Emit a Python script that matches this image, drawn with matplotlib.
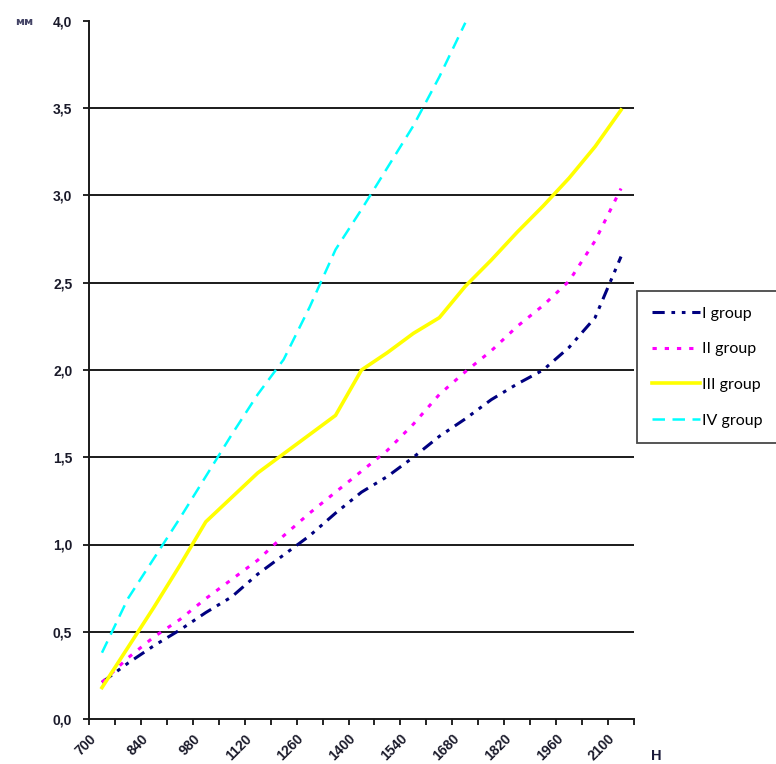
import matplotlib
matplotlib.use("Agg")
import matplotlib.pyplot as plt

# pressure categories (centres of the category slots), H
pressure = [735, 805, 875, 945, 1015, 1085, 1155, 1225, 1295, 1365, 1435,
            1505, 1575, 1645, 1715, 1785, 1855, 1925, 1995, 2065, 2135]

# deformation, mm
group_1 = [0.21, 0.32, 0.42, 0.51, 0.61, 0.70, 0.83, 0.94, 1.05, 1.18, 1.30,
           1.39, 1.50, 1.62, 1.72, 1.83, 1.92, 2.00, 2.13, 2.30, 2.65]
group_2 = [0.21, 0.35, 0.47, 0.57, 0.69, 0.80, 0.91, 1.05, 1.18, 1.30, 1.42,
           1.54, 1.69, 1.86, 1.99, 2.11, 2.25, 2.37, 2.51, 2.74, 3.04]
group_3 = [0.18, 0.41, 0.64, 0.88, 1.13, 1.27, 1.41, 1.52, 1.63, 1.74, 2.00,
           2.10, 2.21, 2.30, 2.48, 2.63, 2.79, 2.94, 3.10, 3.28, 3.49]
group_4 = [0.38, 0.69, 0.92, 1.15, 1.39, 1.63, 1.86, 2.06, 2.36, 2.69, 2.92,
           3.16, 3.40, 3.68, 3.99]

tick_pos = [700, 770, 840, 910, 980, 1050, 1120, 1190, 1260, 1330, 1400,
            1470, 1540, 1610, 1680, 1750, 1820, 1890, 1960, 2030, 2100, 2170]
tick_txt = ["700", "", "840", "", "980", "", "1120", "", "1260", "", "1400",
            "", "1540", "", "1680", "", "1820", "", "1960", "", "2100", ""]
y_ticks = [0.0, 0.5, 1.0, 1.5, 2.0, 2.5, 3.0, 3.5, 4.0]
y_txt = ["0,0", "0,5", "1,0", "1,5", "2,0", "2,5", "3,0", "3,5", "4,0"]
labels = ["I group", "II group", "III group", "IV group"]

W, H = 776, 764
fig = plt.figure(figsize=(W / 100, H / 100), dpi=100)
ax = fig.add_axes([89 / W, 1 - 719 / H, (634 - 89) / W, (719 - 21) / H])

for y in y_ticks[1:-1]:
    ax.axhline(y, color="#1a1a1a", lw=1.4, zorder=1)

ax.plot(pressure, group_1, color="#000080", lw=2.2,
        dashes=[4, 2.2, 1.2, 2.2, 1.2, 2.2], label=labels[0], zorder=3)
ax.plot(pressure, group_2, color="#ff00ff", lw=2.2,
        dashes=[1.4, 2.6], label=labels[1], zorder=3)
ax.plot(pressure, group_3, color="#ffff00", lw=2.6,
        label=labels[2], zorder=3)
ax.plot(pressure[:len(group_4)], group_4, color="#00ffff", lw=1.8,
        dashes=[5, 3], label=labels[3], zorder=3)

ax.set_xlim(700, 2170)
ax.set_ylim(0, 4.0)
ax.set_xticks(tick_pos)
ax.set_xticklabels(tick_txt, rotation=45, ha="right", va="top",
                   rotation_mode="anchor", fontsize=10, fontweight="bold",
                   family="Liberation Sans", color="#1a1a2a")
ax.set_yticks(y_ticks)
ax.set_yticklabels(y_txt, fontsize=10, fontweight="bold",
                   family="Liberation Sans", color="#1a1a2a")
ax.tick_params(axis="x", length=4, width=1.2, pad=5)
ax.tick_params(axis="y", length=4, width=1.2, pad=8)

for side in ["top", "right"]:
    ax.spines[side].set_visible(False)
for side in ["left", "bottom"]:
    ax.spines[side].set_linewidth(1.4)
    ax.spines[side].set_color("#1a1a1a")

fig.text(24 / W, 1 - 22 / H, "мм", ha="center", va="center", fontsize=8,
         fontweight="bold", family="DejaVu Sans", color="#444466")
fig.text(656 / W, 1 - 756 / H, "H", ha="center", va="center", fontsize=10.5,
         fontweight="bold", family="Liberation Sans", color="#1a1a3a")

leg = fig.legend(loc="lower left", bbox_to_anchor=(637 / W, 1 - 443 / H),
                 prop={"family": "Lato", "size": 11.5}, frameon=True,
                 fancybox=False, handlelength=3.0, handletextpad=0.1,
                 labelspacing=1.35, borderpad=0.95, borderaxespad=0)
leg.get_frame().set_edgecolor("#1a1a1a")
leg.get_frame().set_linewidth(1.3)

fig.savefig("out.png", dpi=100)
